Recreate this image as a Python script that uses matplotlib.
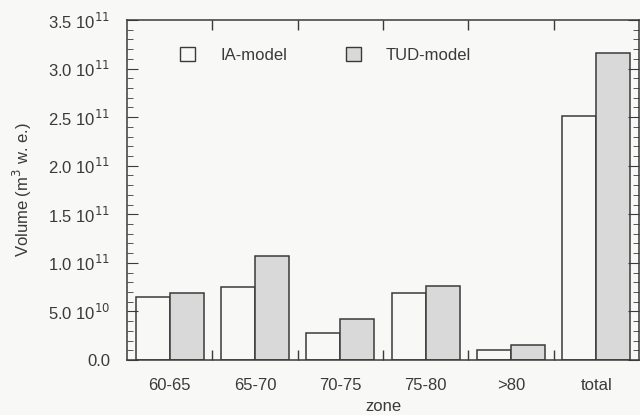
import numpy as np
import matplotlib.pyplot as plt
from matplotlib.patches import Patch
from matplotlib.ticker import MultipleLocator, FuncFormatter

# data
zones = ['60-65', '65-70', '70-75', '75-80', '>80', 'total']
ia_model = [0.648e11, 0.754e11, 0.281e11, 0.686e11, 0.103e11, 2.51e11]
tud_model = [0.692e11, 1.073e11, 0.425e11, 0.765e11, 0.154e11, 3.16e11]

bg = '#f8f9f7'
ink = '#3a3a3a'
plt.rcParams['font.family'] = ['Liberation Sans', 'DejaVu Sans']
plt.rcParams['font.size'] = 12


def sci_label(v, pos):
    if v == 0:
        return '0.0'
    exp = int(np.floor(np.log10(abs(v))))
    return '%.1f 10$^{%d}$' % (v / 10**exp, exp)


fig = plt.figure(figsize=(6.4, 4.15), dpi=100, facecolor=bg)
ax = fig.add_axes([0.1984, 0.1325, 0.8, 0.8193], facecolor=bg)

x = np.arange(len(zones))
w = 0.4
ax.bar(x - w / 2, ia_model, w, color=bg, edgecolor=ink, linewidth=1.1)
ax.bar(x + w / 2, tud_model, w, color='#d9d9d9', edgecolor=ink, linewidth=1.1)

ax.set_xlim(-0.5, 5.5)
ax.set_ylim(0, 3.5e11)

# category labels on x, ticks between groups
ax.set_xticks(x)
ax.set_xticklabels(zones, color=ink)
ax.tick_params(axis='x', which='major', length=0, pad=13)
ax.set_xticks(x[:-1] + 0.5, minor=True)
ax.tick_params(axis='x', which='minor', direction='in', length=7, top=True,
               bottom=True, color=ink, width=1)

ax.yaxis.set_major_locator(MultipleLocator(0.5e11))
ax.yaxis.set_minor_locator(MultipleLocator(0.1e11))
ax.yaxis.set_major_formatter(FuncFormatter(sci_label))
ax.tick_params(axis='y', which='major', direction='in', length=8, left=True,
               right=True, color=ink, labelcolor=ink, pad=12)
ax.tick_params(axis='y', which='minor', direction='in', length=4, left=True,
               right=True, color=ink)

for s in ax.spines.values():
    s.set_color(ink)
    s.set_linewidth(1.1)

ax.set_xlabel('zone', color=ink, labelpad=4)
ax.set_ylabel('Volume (m$^3$ w. e.)', color=ink, labelpad=10)

handles = [Patch(facecolor=bg, edgecolor=ink, linewidth=1),
           Patch(facecolor='#d9d9d9', edgecolor=ink, linewidth=1)]
ax.legend(handles, ['IA-model', 'TUD-model'], ncol=2, frameon=False,
          loc='center left', bbox_to_anchor=(0.075, 0.897),
          handlelength=0.9, handleheight=0.9, handletextpad=1.5,
          columnspacing=3.5, labelcolor=ink)

fig.savefig('out.png', dpi=100, facecolor=bg)
